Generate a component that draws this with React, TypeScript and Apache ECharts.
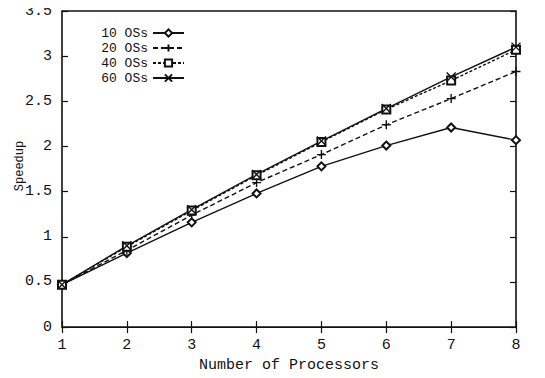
import React, { useEffect, useRef } from "react";
import * as echarts from "echarts";

const processors = [1, 2, 3, 4, 5, 6, 7, 8];
const os10 = [0.47, 0.82, 1.16, 1.48, 1.78, 2.01, 2.21, 2.07];
const os20 = [0.47, 0.85, 1.24, 1.6, 1.91, 2.24, 2.53, 2.83];
const os40 = [0.47, 0.89, 1.29, 1.68, 2.05, 2.41, 2.73, 3.07];
const os60 = [0.47, 0.9, 1.3, 1.69, 2.06, 2.42, 2.77, 3.1];
const seriesNames = ["10 OSs", "20 OSs", "40 OSs", "60 OSs"];

const MONO = "'Liberation Mono', 'DejaVu Sans Mono', monospace";
const INK = "#111";

const PLUS = "path://M5,0L5,10M0,5L10,5";
const CROSS = "path://M0,0L10,10M0,10L10,0";

function pairs(values: number[]) {
  return processors.map((p, i) => [p, values[i]]);
}

function lineSeries(
  name: string,
  values: number[],
  symbol: string,
  symbolSize: number,
  lineType: any,
  hollow: boolean
) {
  return {
    name,
    type: "line",
    data: pairs(values),
    symbol,
    symbolSize,
    showAllSymbol: true,
    lineStyle: { color: INK, width: 1.4, type: lineType },
    // "empty*" symbols stroke with the item colour; path symbols stroke with the border
    itemStyle: hollow
      ? { color: INK, borderColor: INK, borderWidth: 1.4 }
      : { color: "#fff", borderColor: INK, borderWidth: 1.4 },
    emphasis: { disabled: true },
    z: 3,
  };
}

export default function App() {
  const ref = useRef<HTMLDivElement>(null);

  useEffect(() => {
    if (!ref.current) return;
    const chart = echarts.init(ref.current, undefined, { renderer: "svg" });

    const tickStyle = { show: true, inside: true, length: 6, lineStyle: { color: INK, width: 1.2 } };

    chart.setOption({
      animation: false,
      backgroundColor: "#fff",
      grid: {
        left: 62,
        right: 29,
        top: 11,
        bottom: 40,
        show: true,
        borderColor: INK,
        borderWidth: 1.6,
        backgroundColor: "transparent",
      },
      legend: {
        orient: "vertical",
        left: 92,
        top: 26,
        padding: 0,
        align: "right",
        itemWidth: 31,
        itemHeight: 9,
        itemGap: 1,
        data: seriesNames,
        textStyle: {
          fontFamily: MONO,
          fontSize: 13,
          color: INK,
          lineHeight: 14,
          width: 56,
        },
      },
      graphic: [
        {
          type: "text",
          x: 20,
          y: 166,
          rotation: Math.PI / 2,
          style: {
            text: "Speedup",
            fontFamily: MONO,
            fontSize: 12,
            fill: INK,
            align: "center",
            verticalAlign: "middle",
          },
        },
      ],
      xAxis: [
        {
          type: "value",
          min: 1,
          max: 8,
          interval: 1,
          name: "Number of Processors",
          nameLocation: "middle",
          nameGap: 25,
          nameTextStyle: { fontFamily: MONO, fontSize: 15, color: INK },
          axisLine: { show: false },
          axisTick: tickStyle,
          splitLine: { show: false },
          axisLabel: { fontFamily: MONO, fontSize: 15, color: INK, margin: 11 },
        },
        {
          type: "value",
          position: "top",
          min: 1,
          max: 8,
          interval: 1,
          axisLine: { show: false },
          axisTick: tickStyle,
          splitLine: { show: false },
          axisLabel: { show: false },
        },
      ],
      yAxis: [
        {
          type: "value",
          min: 0,
          max: 3.5,
          interval: 0.5,
          axisLine: { show: false },
          axisTick: tickStyle,
          splitLine: { show: false },
          axisLabel: { fontFamily: MONO, fontSize: 15, color: INK, margin: 10 },
        },
        {
          type: "value",
          position: "right",
          min: 0,
          max: 3.5,
          interval: 0.5,
          axisLine: { show: false },
          axisTick: tickStyle,
          splitLine: { show: false },
          axisLabel: { show: false },
        },
      ],
      series: [
        lineSeries(seriesNames[0], os10, "emptyDiamond", 8, "solid", true),
        lineSeries(seriesNames[1], os20, PLUS, 9, [5, 3], false),
        lineSeries(seriesNames[2], os40, "emptyRect", 8, [3, 2], true),
        lineSeries(seriesNames[3], os60, CROSS, 9, "solid", false),
      ],
    });

    return () => chart.dispose();
  }, []);

  return <div ref={ref} style={{ width: 545, height: 378, margin: -8 }} />;
}
